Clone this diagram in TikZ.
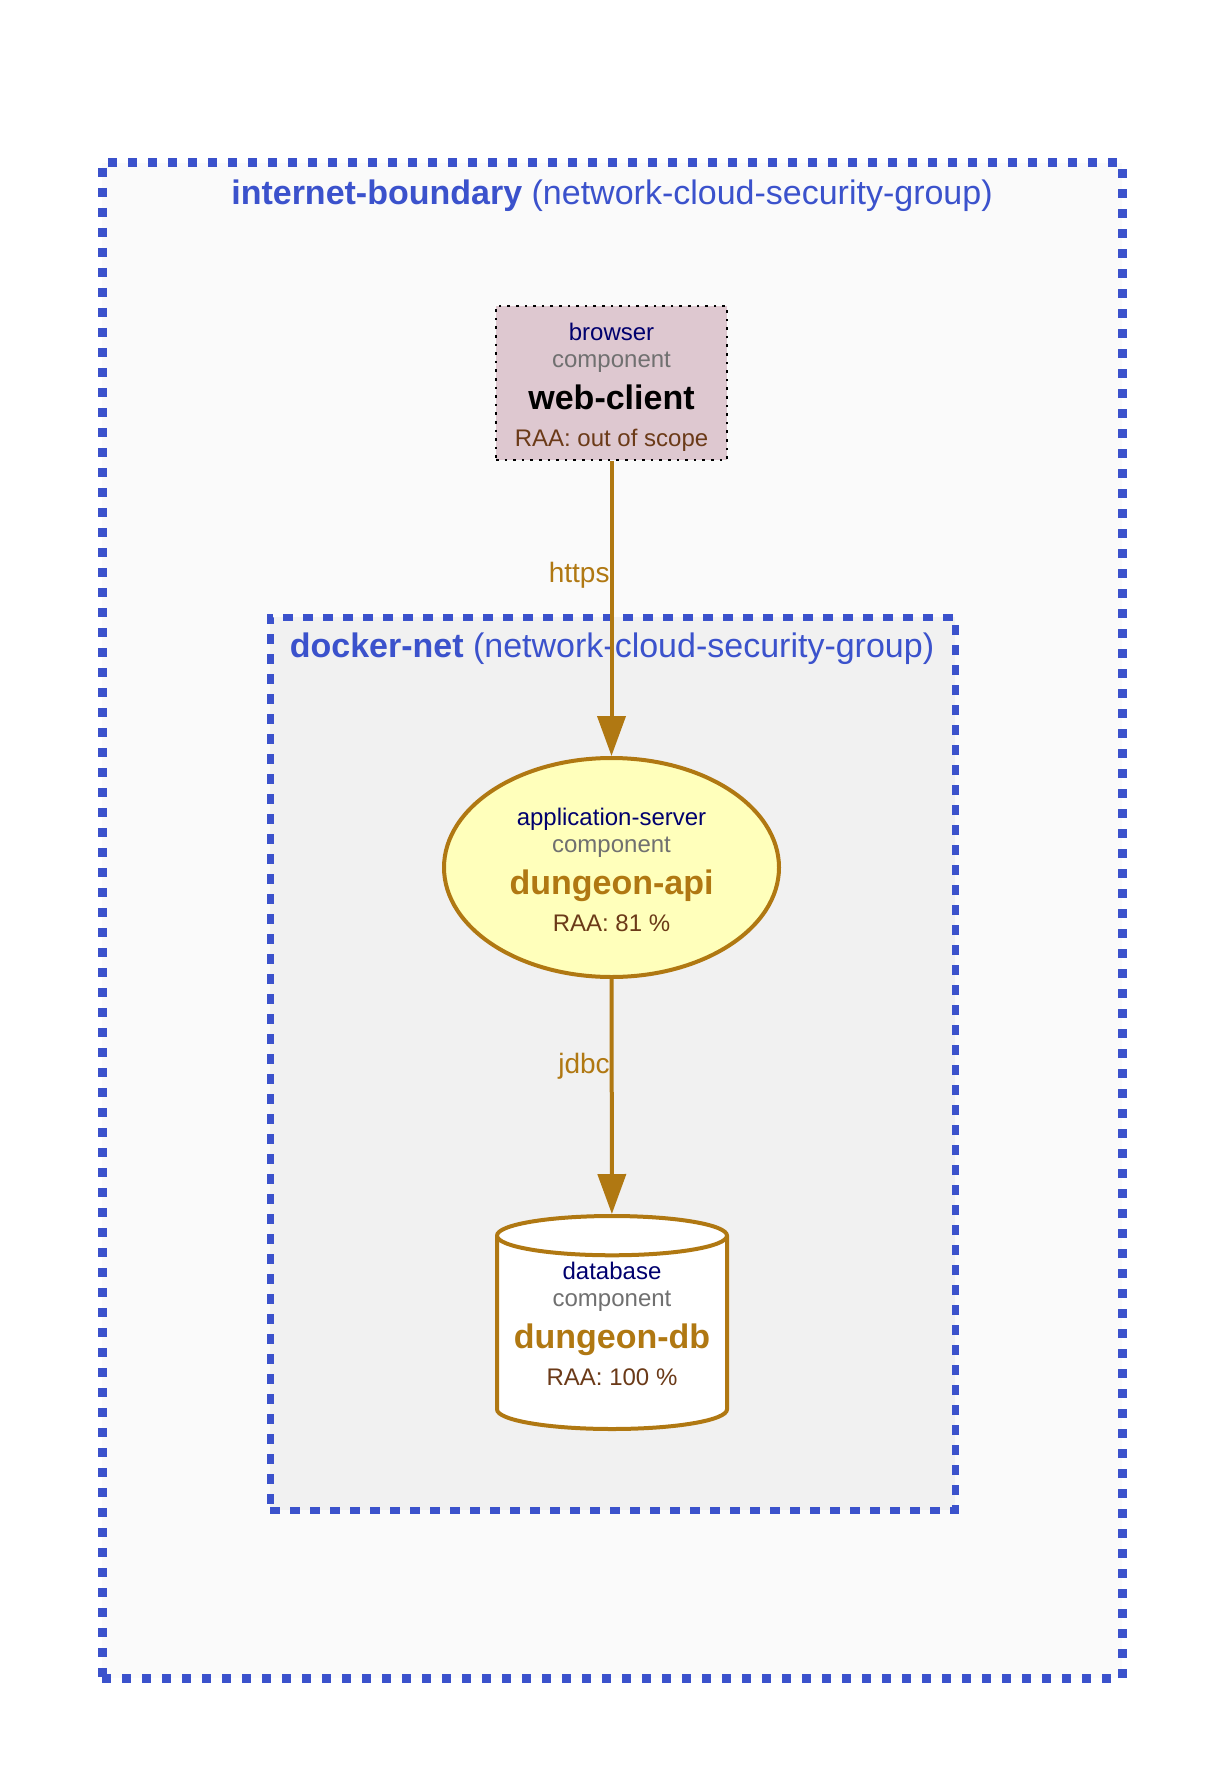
\documentclass[tikz,border=0pt]{standalone}
\usepackage{fontspec}
\setmainfont{Liberation Sans}
\usetikzlibrary{shapes.geometric,arrows.meta}
\definecolor{zoneBlue}{RGB}{59,82,204}
\definecolor{flowAmber}{RGB}{176,120,18}
\definecolor{raaBrown}{RGB}{107,58,24}
\definecolor{techNavy}{RGB}{0,0,110}
\definecolor{typeGray}{RGB}{112,112,112}
\definecolor{outerBg}{RGB}{250,250,250}
\definecolor{innerBg}{RGB}{241,241,241}
\definecolor{clientFill}{RGB}{222,200,208}
\definecolor{apiFill}{RGB}{255,255,187}
\newcommand{\namefont}{\fontsize{17}{20}\selectfont\bfseries}
\begin{document}
\begin{tikzpicture}[
        x=0.5pt, y=-0.5pt,
        outerZone/.style={rectangle, draw=zoneBlue, fill=outerBg, line width=4.5pt, dash pattern=on 4.5pt off 5.5pt, minimum width=510pt, minimum height=757.5pt, inner sep=0pt},
        innerZone/.style={rectangle, draw=zoneBlue, fill=innerBg, line width=3.5pt, dash pattern=on 5pt off 5pt, minimum width=342.5pt, minimum height=446.5pt, inner sep=0pt},
        zoneTitle/.style={anchor=base, inner sep=0pt, text=zoneBlue, font=\fontsize{17}{20}\selectfont},
        compText/.style={align=center, inner sep=0pt, font={\fontsize{12}{13.5}\selectfont\lineskiplimit=-100pt}},
        clientNode/.style={compText, rectangle, draw=black, fill=clientFill, line width=1.3pt, dash pattern=on 1.3pt off 3pt, minimum width=115.5pt, minimum height=77pt},
        apiNode/.style={compText, ellipse, draw=flowAmber, fill=apiFill, line width=2pt, minimum width=167.5pt, minimum height=109.5pt},
        dbNode/.style={compText, cylinder, shape border rotate=90, aspect=0.2, draw=flowAmber, fill=white, line width=2pt, minimum width=115pt, minimum height=106.5pt},
        flow/.style={draw=flowAmber, line width=2pt, -{Triangle[length=20pt, width=14pt]}},
        flowLabel/.style={anchor=base east, inner sep=0pt, text=flowAmber, font=\fontsize{14}{16}\selectfont}
    ]
        \useasboundingbox[fill=white] (0,0) rectangle (1225,1781);

        % Trust boundaries
        \node[outerZone] (internet) at (612,920.5) {};
        \node[zoneTitle] at (612,205) {\textbf{internet-boundary} (network-cloud-security-group)};
        \node[innerZone] (docker) at (612.5,1063.5) {};
        \node[zoneTitle] at (612,657) {\textbf{docker-net} (network-cloud-security-group)};

        % Components
        \node[clientNode] (client) at (611.5,383) {\rule{0pt}{12.7pt}{\color{techNavy}browser}\\ {\color{typeGray}component}\\[7.5pt] {\namefont web-client}\\[5pt] {\color{raaBrown}RAA: out of scope}};
        \node[apiNode] (api) at (611.5,867.5) {\rule{0pt}{11pt}{\color{techNavy}application-server}\\ {\color{typeGray}component}\\[7.5pt] {\namefont\color{flowAmber}dungeon-api}\\[5pt] {\color{raaBrown}RAA: 81 \%}};
        \node[dbNode, anchor=shape center] (db) at (612,1322.5) {{\color{techNavy}database}\\ {\color{typeGray}component}\\[7.5pt] {\namefont\color{flowAmber}dungeon-db}\\[5pt] {\color{raaBrown}RAA: 100 \%}\rule[-10pt]{0pt}{0pt}};

        % Data flows
        \draw[flow] (client) -- node[flowLabel, pos=0.41] {https} (api);
        \draw[flow] (api) -- node[flowLabel, pos=0.40] {jdbc} (db);
    \end{tikzpicture}
\end{document}
